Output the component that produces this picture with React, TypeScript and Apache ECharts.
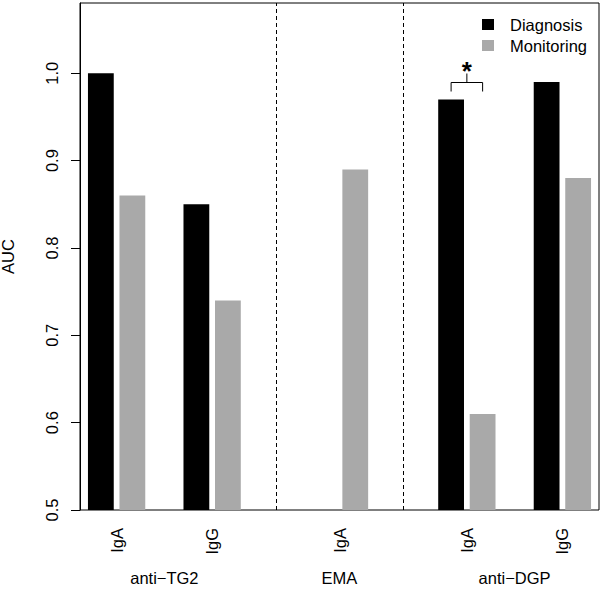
import React, { useEffect, useRef } from "react";
import * as echarts from "echarts";

// ---- data ----
const pairCenters = [1.15, 4.15, 8.15, 12.15, 15.15];
const subLabels = ["IgA", "IgG", "IgA", "IgA", "IgG"];
const groupCenters = [2.65, 8.15, 13.65];
const groupLabels = ["anti−TG2", "EMA", "anti−DGP"];
const diagnosis: (number | null)[] = [1.0, 0.85, null, 0.97, 0.99];
const monitoring: (number | null)[] = [0.86, 0.74, 0.89, 0.61, 0.88];
const separators = [6.15, 10.15];
const yTicks = [0.5, 0.6, 0.7, 0.8, 0.9, 1.0];
const significantPairs = [3]; // index into pairCenters
const seriesNames = ["Diagnosis", "Monitoring"];

const FONT = "Liberation Sans, Arial, Helvetica, sans-serif";
const FS = 16.5;
const X_MIN = 0;
const X_MAX = 16.3;
const Y_MIN = 0.5;
const Y_MAX = 1.0805;

function barRender(offLeft: number, offRight: number) {
  return (params: any, api: any) => {
    const c = api.value(0);
    const v = api.value(1);
    const p0 = api.coord([c + offLeft, v]);
    const p1 = api.coord([c + offRight, Y_MIN]);
    return {
      type: "rect",
      shape: { x: p0[0], y: p0[1], width: p1[0] - p0[0], height: p1[1] - p0[1] },
      style: { fill: api.visual("color") },
    };
  };
}

export default function App() {
  const ref = useRef<HTMLDivElement>(null);
  useEffect(() => {
    document.body.style.margin = "0";
    const chart = echarts.init(ref.current!, null, { renderer: "svg" });
    const diagData = pairCenters
      .map((c, i) => [c, diagnosis[i]])
      .filter((d) => d[1] != null);
    const monData = pairCenters
      .map((c, i) => [c, monitoring[i]])
      .filter((d) => d[1] != null);
    const sigData = significantPairs.map((i) => [
      pairCenters[i],
      Math.max(diagnosis[i] ?? 0, monitoring[i] ?? 0),
    ]);
    const labelFor = (arr: number[], labels: string[]) => (v: number) => {
      let best = 0;
      for (let i = 1; i < arr.length; i++)
        if (Math.abs(arr[i] - v) < Math.abs(arr[best] - v)) best = i;
      return labels[best];
    };
    chart.setOption({
      animation: false,
      backgroundColor: "#ffffff",
      textStyle: { fontFamily: FONT },
      grid: {
        left: 80,
        right: 1,
        top: 3,
        bottom: 81,
        show: true,
        borderColor: "#000",
        borderWidth: 1,
        backgroundColor: "transparent",
        outerBoundsMode: "none",
      },
      legend: {
        orient: "vertical",
        left: 477,
        top: 11,
        itemWidth: 12,
        itemHeight: 11,
        itemGap: 4,
        icon: "rect",
        data: seriesNames,
        textStyle: {
          fontSize: FS,
          lineHeight: 16,
          color: "#000",
          fontFamily: FONT,
          padding: [0, 0, 0, 11],
        },
      },
      xAxis: {
        type: "value",
        min: X_MIN,
        max: X_MAX,
        axisLine: { show: false },
        axisTick: { show: false },
        splitLine: { show: false },
        axisLabel: {
          customValues: pairCenters,
          rotate: 90,
          margin: 18,
          fontSize: FS,
          color: "#000",
          fontFamily: FONT,
          formatter: labelFor(pairCenters, subLabels),
        },
      },
      yAxis: {
        type: "value",
        min: Y_MIN,
        max: Y_MAX,
        name: "AUC",
        nameLocation: "middle",
        nameRotate: 90,
        nameGap: 64,
        nameTextStyle: { fontSize: FS, color: "#000", fontFamily: FONT },
        axisLine: { show: true, lineStyle: { color: "#000", width: 1 } },
        axisTick: {
          show: true,
          customValues: yTicks,
          length: 9,
          lineStyle: { color: "#000", width: 1 },
        },
        splitLine: { show: false },
        axisLabel: {
          customValues: yTicks,
          rotate: 90,
          margin: 20,
          fontSize: FS,
          color: "#000",
          fontFamily: FONT,
          formatter: (v: number) => v.toFixed(1),
        },
      },
      series: [
        {
          name: seriesNames[0],
          type: "custom",
          itemStyle: { color: "#000000" },
          encode: { x: 0, y: 1 },
          data: diagData,
          renderItem: barRender(-0.9, -0.09),
        },
        {
          name: seriesNames[1],
          type: "custom",
          itemStyle: { color: "#A9A9A9" },
          encode: { x: 0, y: 1 },
          data: monData,
          renderItem: barRender(0.09, 0.9),
        },
        {
          name: "sig",
          type: "custom",
          silent: true,
          encode: { x: 0, y: 1 },
          data: sigData,
          renderItem: (params: any, api: any) => {
            const c = api.value(0);
            const v = api.value(1);
            const l = api.coord([c - 0.495, v]);
            const r = api.coord([c + 0.495, v]);
            const top = l[1];
            const m = (l[0] + r[0]) / 2;
            const ls = { stroke: "#000", lineWidth: 1, fill: "none" };
            return {
              type: "group",
              children: [
                {
                  type: "polyline",
                  shape: {
                    points: [
                      [l[0], top - 8],
                      [l[0], top - 17],
                      [r[0], top - 17],
                      [r[0], top - 8],
                    ],
                  },
                  style: ls,
                },
                {
                  type: "line",
                  shape: { x1: m, y1: top - 17, x2: m, y2: top - 26 },
                  style: ls,
                },
                {
                  type: "text",
                  style: {
                    x: m,
                    y: top - 29,
                    text: "*",
                    fontSize: 26,
                    fontWeight: "bold",
                    fontFamily: FONT,
                    fill: "#000",
                    align: "center",
                    verticalAlign: "middle",
                  },
                },
              ],
            };
          },
          markLine: {
            silent: true,
            symbol: "none",
            label: { show: false },
            lineStyle: { color: "#000", width: 1, type: [4, 3] },
            data: separators.map((x) => ({ xAxis: x })),
          },
        },
        {
          name: "groups",
          type: "custom",
          silent: true,
          encode: { x: 0 },
          data: groupCenters.map((c, i) => [c, Y_MIN, i]),
          renderItem: (params: any, api: any) => {
            const p = api.coord([api.value(0), Y_MIN]);
            return {
              type: "text",
              style: {
                x: p[0],
                y: p[1] + 68,
                text: groupLabels[api.value(2)],
                fontSize: FS,
                fontFamily: FONT,
                fill: "#000",
                align: "center",
                verticalAlign: "middle",
              },
            };
          },
        },
      ],
    });
    return () => chart.dispose();
  }, []);
  return <div ref={ref} style={{ width: 600, height: 591 }} />;
}
